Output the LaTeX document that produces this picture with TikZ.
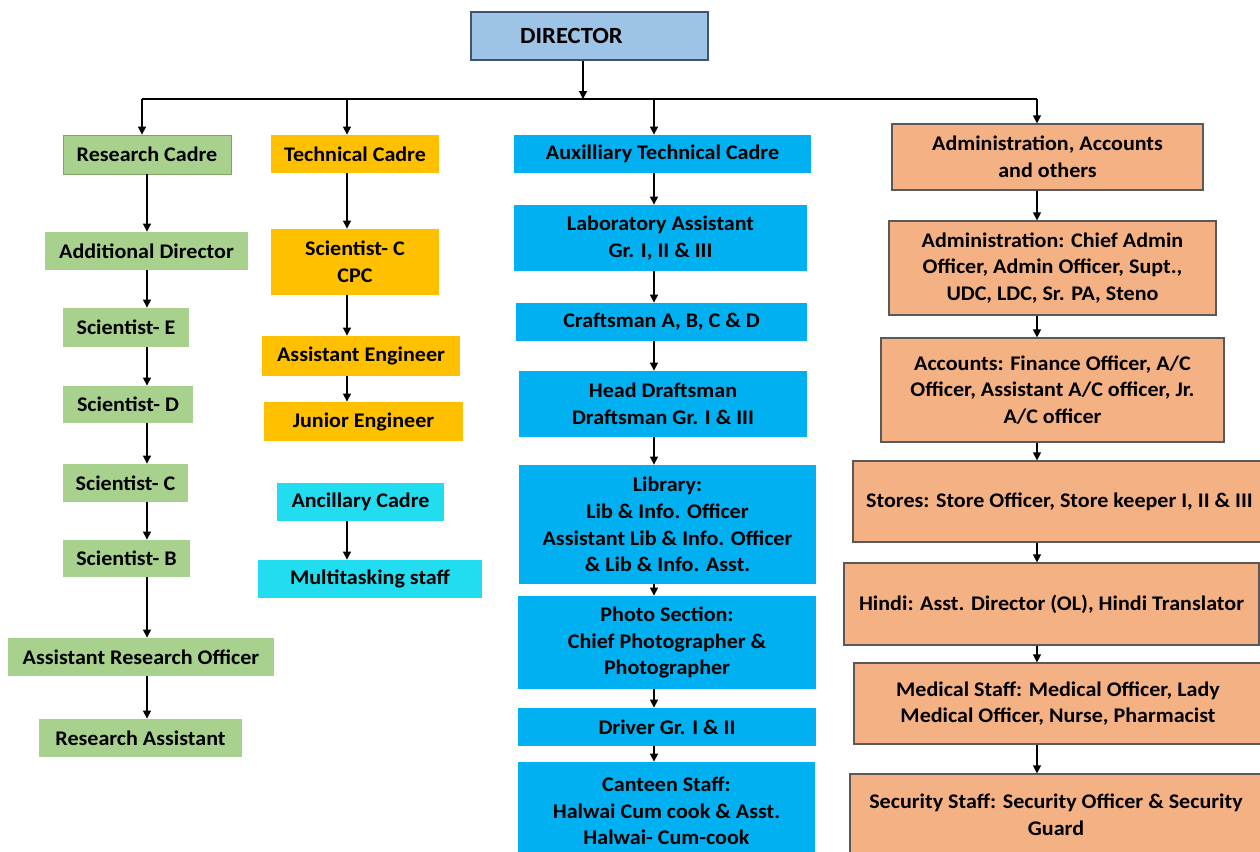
\documentclass[tikz,border=0pt]{standalone}
\usepackage{fontspec}
\setmainfont{Carlito}[FakeStretch=1.06]
\usepackage{xcolor}
\usepackage{tikz}
\usetikzlibrary{arrows.meta,positioning,calc}
\definecolor{dircol}{HTML}{9DC3E6}
\definecolor{dirline}{HTML}{41546F}
\definecolor{rescol}{HTML}{A9D18E}
\definecolor{resline}{HTML}{7FA565}
\definecolor{techcol}{HTML}{FFC000}
\definecolor{auxcol}{HTML}{00B0F0}
\definecolor{ancol}{HTML}{22DDF0}
\definecolor{admcol}{HTML}{F4B183}
\definecolor{admline}{HTML}{595959}

\begin{document}
\begin{tikzpicture}[x=0.5pt,y=-0.5pt,
  box/.style={inner sep=1pt,align=center,font=\bfseries\fontsize{10.4}{13.3}\selectfont},
  sz/.style 2 args={minimum width=#1*0.5pt,minimum height=#2*0.5pt},
  dirbox/.style={box,fill=dircol,draw=dirline,line width=0.7pt,font=\bfseries\fontsize{11.6}{14}\selectfont},
  resbox/.style={box,fill=rescol},
  techbox/.style={box,fill=techcol},
  auxbox/.style={box,fill=auxcol},
  ancbox/.style={box,fill=ancol},
  admbox/.style={box,fill=admcol,draw=admline,line width=0.6pt},
  arr/.style={-{Triangle[length=4pt,width=4pt]},line width=0.6pt}]
  \useasboundingbox (0,0) rectangle (1260,852);
  % top
  \node[dirbox,sz={237}{48}] (dir) at (589.5,36) {\hspace*{-18pt}DIRECTOR};
  % research cadre
  \node[resbox,draw=resline,line width=0.4pt,sz={168}{39}] (rc) at (147,154.5) {Research Cadre};
  \node[resbox,sz={203}{38}] (ad) at (146.5,251) {Additional Director};
  \node[resbox,sz={126}{39}] (se) at (126,327.5) {Scientist- E};
  \node[resbox,sz={130}{37}] (sd) at (128,404.5) {Scientist- D};
  \node[resbox,sz={125}{38}] (sc) at (125.5,483) {Scientist- C};
  \node[resbox,sz={127}{37}] (sb) at (126.5,558.5) {Scientist- B};
  \node[resbox,sz={266}{38}] (aro) at (141,657) {Assistant Research Officer};
  \node[resbox,sz={203}{38}] (ra) at (140.5,738) {Research Assistant};
  % technical cadre
  \node[techbox,sz={168}{38}] (tc) at (355,154) {Technical Cadre};
  \node[techbox,sz={168}{66}] (scc) at (355,262) {Scientist- C\\CPC};
  \node[techbox,sz={198}{40}] (ae) at (361,356) {Assistant Engineer};
  \node[techbox,sz={199}{39}] (je) at (363.5,421.5) {Junior Engineer};
  \node[ancbox,sz={167}{38}] (anc) at (360.5,502) {Ancillary Cadre};
  \node[ancbox,sz={224}{38}] (mts) at (370,579) {Multitasking staff};
  % auxilliary technical cadre
  \node[auxbox,sz={297}{38}] (aux) at (662.5,154) {Auxilliary Technical Cadre};
  \node[auxbox,sz={293}{66}] (lab) at (660.5,238) {Laboratory Assistant\\Gr. I, II \& III};
  \node[auxbox,sz={291}{38}] (craft) at (661.5,322) {Craftsman A, B, C \& D};
  \node[auxbox,sz={288}{66}] (draft) at (663,404) {Head Draftsman\\Draftsman Gr. I \& III};
  \node[auxbox,sz={297}{119}] (lib) at (667.5,524.5) {Library:\\Lib \& Info. Officer\\Assistant Lib \& Info. Officer\\\& Lib \& Info. Asst.};
  \node[auxbox,sz={298}{93}] (photo) at (667,642.5) {Photo Section:\\Chief Photographer \&\\Photographer};
  \node[auxbox,sz={298}{38}] (drv) at (667,727) {Driver Gr. I \& II};
  \node[auxbox,sz={297}{98}] (cant) at (666.5,811) {Canteen Staff:\\Halwai Cum cook \& Asst.\\Halwai- Cum-cook};
  % administration, accounts and others
  \node[admbox,sz={311}{66}] (adm) at (1047.5,157) {Administration, Accounts\\and others};
  \node[admbox,sz={327}{94}] (admin) at (1052.5,268) {Administration: Chief Admin\\Officer, Admin Officer, Supt.,\\UDC, LDC, Sr. PA, Steno};
  \node[admbox,sz={343}{104}] (acc) at (1052.5,390) {Accounts: Finance Officer, A/C\\Officer, Assistant A/C officer, Jr.\\A/C officer};
  \node[admbox,sz={413}{81}] (store) at (1059.5,501.5) {Stores: Store Officer, Store keeper I, II \& III};
  \node[admbox,sz={415}{82}] (hindi) at (1051.5,604) {Hindi: Asst. Director (OL), Hindi Translator};
  \node[admbox,sz={408}{81}] (med) at (1058,703.5) {Medical Staff: Medical Officer, Lady\\Medical Officer, Nurse, Pharmacist};
  \node[admbox,sz={412}{82}] (sec) at (1056,815) {Security Staff: Security Officer \& Security\\Guard};
  % connectors
  \coordinate (bus) at (583,99);
  \coordinate (busL) at (142,99);
  \coordinate (busR) at (1037,99);
  \coordinate (c1) at (147,0);
  \coordinate (c2) at (347,0);
  \coordinate (c3) at (654,0);
  \coordinate (c4) at (1037,0);
  \draw[arr] (dir.south -| bus) -- (bus);
  \draw[line width=0.6pt] (busL) -- (busR);
  \draw[arr] (busL) -- (rc.north -| busL);
  \draw[arr] (c2 |- busL) -- (tc.north -| c2);
  \draw[arr] (c3 |- busL) -- (aux.north -| c3);
  \draw[arr] (busR) -- (adm.north -| busR);
  \draw[arr] (rc.south -| c1) -- (ad.north -| c1); \draw[arr] (ad.south -| c1) -- (se.north -| c1);
  \draw[arr] (se.south -| c1) -- (sd.north -| c1); \draw[arr] (sd.south -| c1) -- (sc.north -| c1);
  \draw[arr] (sc.south -| c1) -- (sb.north -| c1); \draw[arr] (sb.south -| c1) -- (aro.north -| c1);
  \draw[arr] (aro.south -| c1) -- (ra.north -| c1);
  \draw[arr] (tc.south -| c2) -- (scc.north -| c2); \draw[arr] (scc.south -| c2) -- (ae.north -| c2);
  \draw[arr] (ae.south -| c2) -- (je.north -| c2); \draw[arr] (anc.south -| c2) -- (mts.north -| c2);
  \draw[arr] (aux.south -| c3) -- (lab.north -| c3); \draw[arr] (lab.south -| c3) -- (craft.north -| c3);
  \draw[arr] (craft.south -| c3) -- (draft.north -| c3); \draw[arr] (draft.south -| c3) -- (lib.north -| c3);
  \draw[arr] (lib.south -| c3) -- (photo.north -| c3); \draw[arr] (photo.south -| c3) -- (drv.north -| c3);
  \draw[arr] (drv.south -| c3) -- (cant.north -| c3);
  \draw[arr] (adm.south -| c4) -- (admin.north -| c4); \draw[arr] (admin.south -| c4) -- (acc.north -| c4);
  \draw[arr] (acc.south -| c4) -- (store.north -| c4); \draw[arr] (store.south -| c4) -- (hindi.north -| c4);
  \draw[arr] (hindi.south -| c4) -- (med.north -| c4); \draw[arr] (med.south -| c4) -- (sec.north -| c4);
\end{tikzpicture}
\end{document}
